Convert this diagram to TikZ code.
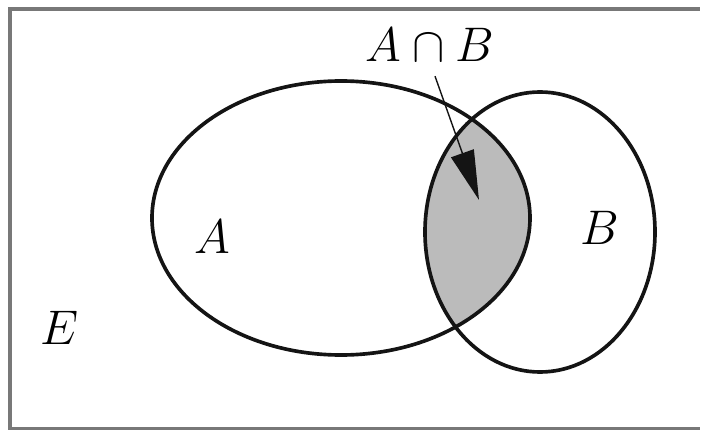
\documentclass[tikz,border=0pt]{standalone}
\usepackage{tikz}
\usetikzlibrary{arrows.meta, positioning}
\definecolor{framegray}{RGB}{120,120,120}
\definecolor{setgray}{RGB}{187,187,187}
\definecolor{setdark}{RGB}{20,20,20}
\tikzset{
  setline/.style={draw=setdark, line width=1.3pt},
  setlabel/.style={font=\fontsize{18}{20}\selectfont, inner sep=0pt},
  pointer/.style={-{Triangle[length=0.62cm, width=0.30cm]}, line width=0.5pt, color=setdark}
}

\begin{document}
\begin{tikzpicture}[x=0.0125cm, y=-0.0125cm]
  \useasboundingbox (0,0) rectangle (704,430);
  % Universe
  \draw[framegray, line width=1.1pt] (10,430) -- (10,9) -- (700,9);
  \draw[framegray, line width=1.1pt] (10,428.5) -- (700,428.5);

  % Intersection
  \begin{scope}
    \clip (341,218) ellipse [x radius=189, y radius=137];
    \fill[setgray] (540,232) ellipse [x radius=115, y radius=140];
  \end{scope}

  % Sets
  \draw[setline] (341,218) ellipse [x radius=189, y radius=137];
  \draw[setline] (540,232) ellipse [x radius=115, y radius=140];

  % Labels
  \node[setlabel] (inter) at (430,45) {$A\cap B$};
  \node[setlabel] (seta) at (212,237) {$A$};
  \node[setlabel] (setb) at (600,228) {$B$};
  \node[setlabel] (univ) at (60,328) {$E$};

  % Pointer
  \coordinate (tip) at (479,200);
  \draw[pointer] (inter.south) ++(5,14) -- (tip);
\end{tikzpicture}
\end{document}
